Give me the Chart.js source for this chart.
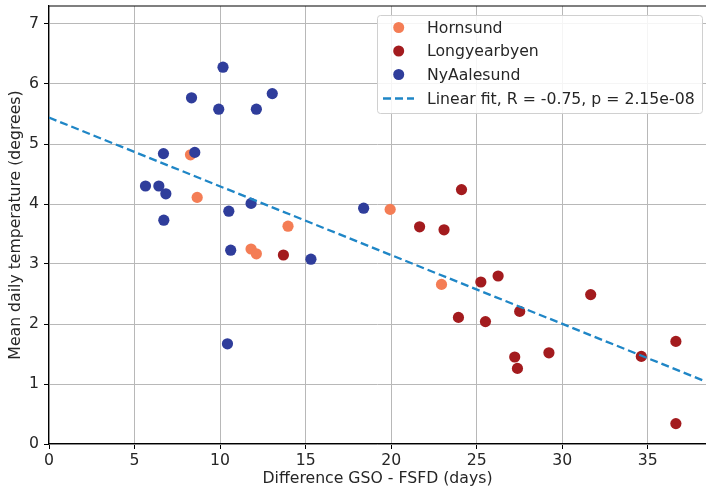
<!DOCTYPE html>
<html>
<head>
<meta charset="utf-8">
<script src="https://cdn.jsdelivr.net/npm/chart.js@4.4.1/dist/chart.umd.min.js"></script>
<style>
  html, body { margin: 0; padding: 0; background: #fff; }
  #wrap { width: 706px; height: 493px; }
</style>
</head>
<body>
<div id="wrap"><canvas id="chart" width="706" height="493"></canvas></div>
<script>
// values
const hornsundX = [8.27, 8.66, 13.97, 11.81, 12.12, 19.94, 22.94];
const hornsundY = [4.82, 4.11, 3.63, 3.25, 3.17, 3.91, 2.66];

const longyearX = [13.70, 24.11, 21.66, 23.09, 26.25, 25.24, 27.51, 23.93, 25.51, 31.66, 36.64, 34.62, 29.22, 27.22, 27.38, 36.64];
const longyearY = [3.15, 4.24, 3.62, 3.57, 2.80, 2.70, 2.21, 2.11, 2.04, 2.49, 1.71, 1.46, 1.52, 1.45, 1.26, 0.34];

const nyX = [10.17, 8.33, 9.92, 12.12, 13.05, 6.69, 8.52, 5.64, 6.42, 6.83, 6.71, 10.51, 11.81, 10.62, 10.43, 15.31, 18.39];
const nyY = [6.28, 5.77, 5.58, 5.58, 5.84, 4.84, 4.86, 4.30, 4.30, 4.17, 3.73, 3.88, 4.01, 3.23, 1.67, 3.08, 3.93];

// fit line end points
const fitX = [0, 38.4];
const fitY = [5.44, 1.04];

const xTicks = [0, 5, 10, 15, 20, 25, 30, 35];
const yTicks = [0, 1, 2, 3, 4, 5, 6, 7];

const toPts = (xs, ys) => xs.map((x, i) => ({ x, y: ys[i] }));
const FONT = "'DejaVu Sans', sans-serif";
const SIZE = 15.7;
const INK = "#262626";

// matplotlib style legend in the upper right corner
const legendBox = {
  id: "legendBox",
  afterDraw(chart) {
    const ctx = chart.ctx;
    const x0 = 377, y0 = 15, w = 325, h = 98;
    ctx.save();
    ctx.fillStyle = "rgba(255,255,255,0.85)";
    ctx.strokeStyle = "#d0d0d0";
    ctx.lineWidth = 1;
    ctx.beginPath();
    ctx.roundRect(x0 + 0.5, y0 + 0.5, w, h, 3);
    ctx.fill();
    ctx.stroke();

    ctx.font = SIZE + "px " + FONT;
    ctx.textBaseline = "middle";
    const rows = [27.5, 51, 74.5, 98.5];
    chart.data.datasets.forEach((ds, i) => {
      const y = rows[i];
      if (ds.showLine) {
        ctx.strokeStyle = ds.borderColor;
        ctx.lineWidth = ds.borderWidth;
        ctx.setLineDash(ds.borderDash);
        ctx.beginPath();
        ctx.moveTo(383, y);
        ctx.lineTo(414, y);
        ctx.stroke();
        ctx.setLineDash([]);
      } else {
        ctx.fillStyle = ds.backgroundColor;
        ctx.beginPath();
        ctx.arc(398.7, y, 5.5, 0, Math.PI * 2);
        ctx.fill();
      }
      ctx.fillStyle = INK;
      ctx.fillText(ds.label, 427, y + 1);
    });
    ctx.restore();
  }
};

// top spine (right one falls off the picture)
const frame = {
  id: "frame",
  afterDatasetsDraw(chart) {
    const a = chart.chartArea;
    const ctx = chart.ctx;
    ctx.save();
    ctx.strokeStyle = "#000";
    ctx.lineWidth = 1.2;
    ctx.beginPath();
    ctx.moveTo(a.left, a.top);
    ctx.lineTo(a.right + 2, a.top);
    ctx.stroke();
    ctx.restore();
  }
};

chart = new Chart(document.getElementById("chart"), {
  type: "scatter",
  data: {
    datasets: [
      {
        label: "Hornsund",
        data: toPts(hornsundX, hornsundY),
        backgroundColor: "#f47d55",
        borderWidth: 0,
        pointRadius: 5.6,
        order: 3
      },
      {
        label: "Longyearbyen",
        data: toPts(longyearX, longyearY),
        backgroundColor: "#a31b1e",
        borderWidth: 0,
        pointRadius: 5.6,
        order: 2
      },
      {
        label: "NyAalesund",
        data: toPts(nyX, nyY),
        backgroundColor: "#2f3d9b",
        borderWidth: 0,
        pointRadius: 5.6,
        order: 1
      },
      {
        label: "Linear fit, R = -0.75, p = 2.15e-08",
        data: toPts(fitX, fitY),
        showLine: true,
        borderColor: "#1f86c6",
        borderWidth: 2.3,
        borderDash: [8, 4],
        pointRadius: 0,
        order: 0
      }
    ]
  },
  options: {
    responsive: false,
    animation: false,
    layout: { autoPadding: false, padding: { top: 6, right: 0, left: 0, bottom: 0 } },
    plugins: {
      legend: { display: false },
      tooltip: { enabled: false }
    },
    scales: {
      x: {
        type: "linear",
        min: 0,
        max: 38.4,
        afterBuildTicks: s => { s.ticks = xTicks.map(v => ({ value: v })); },
        afterFit: s => { s.height = 49; s.paddingLeft = 0; s.paddingRight = 0; },
        grid: { color: "#b8b8b8", lineWidth: 1, tickLength: 5, tickColor: "#000" },
        border: { color: "#000", width: 1.2 },
        ticks: { color: INK, font: { family: FONT, size: SIZE }, padding: 3, maxRotation: 0 },
        title: {
          display: true,
          text: "Difference GSO - FSFD (days)",
          color: INK,
          font: { family: FONT, size: SIZE },
          padding: { top: 0, bottom: 5 }
        }
      },
      y: {
        type: "linear",
        min: 0,
        max: 7.3,
        afterBuildTicks: s => { s.ticks = yTicks.map(v => ({ value: v })); },
        afterFit: s => { s.width = 49; s.paddingTop = 0; s.paddingBottom = 0; },
        grid: { color: "#b8b8b8", lineWidth: 1, tickLength: 5, tickColor: "#000" },
        border: { color: "#000", width: 1.2 },
        ticks: { color: INK, font: { family: FONT, size: SIZE }, padding: 5 },
        title: {
          display: true,
          text: "Mean daily temperature (degrees)",
          color: INK,
          font: { family: FONT, size: SIZE },
          padding: { top: 7, bottom: 0 }
        }
      }
    }
  },
  plugins: [legendBox, frame]
});
</script>
</body>
</html>
